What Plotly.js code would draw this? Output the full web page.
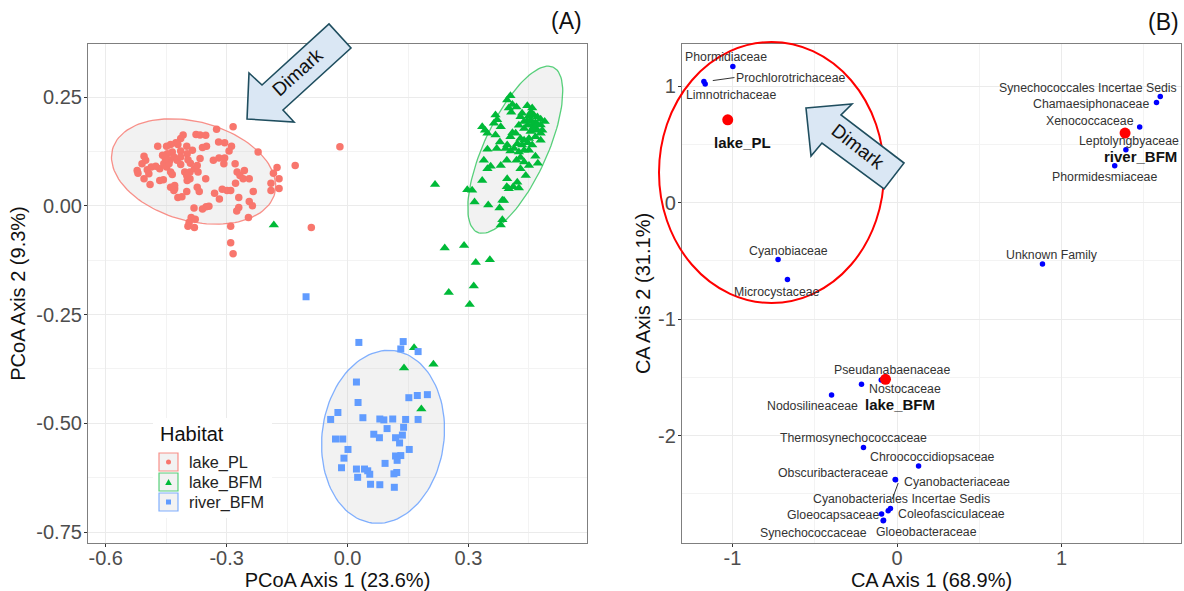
<!DOCTYPE html>
<html>
<head>
<meta charset="utf-8">
<script src="https://cdn.plot.ly/plotly-3.0.1.min.js"></script>
<style>
html,body{margin:0;padding:0;background:#fff;}
#plot{position:absolute;left:0;top:0;width:1184px;height:591px;}
</style>
</head>
<body>
<div id="plot"></div>
<script>
// ---------------- Panel A: PCoA ----------------
const habitats = ["lake_PL", "lake_BFM", "river_BFM"];

const lakePL_x = [-0.284,-0.019,-0.130,-0.090,-0.290,-0.290,-0.284,-0.222,-0.175,-0.170,
 -0.170,-0.190,-0.190,-0.184,-0.246,-0.325,-0.376,-0.366,-0.352,-0.408,
 -0.414,-0.426,-0.439,-0.449,-0.471,-0.421,-0.399,-0.414,-0.435,-0.447,
 -0.459,-0.505,-0.510,-0.501,-0.487,-0.497,-0.522,-0.520,-0.505,-0.490,
 -0.493,-0.476,-0.466,-0.456,-0.449,-0.441,-0.431,-0.439,-0.435,-0.414,
 -0.398,-0.396,-0.390,-0.404,-0.391,-0.380,-0.373,-0.366,-0.371,-0.391,
 -0.398,-0.399,-0.352,-0.350,-0.360,-0.320,-0.305,-0.288,-0.294,-0.333,
 -0.319,-0.305,-0.307,-0.279,-0.274,-0.267,-0.259,-0.256,-0.244,-0.278,
 -0.290,-0.299,-0.311,-0.330,-0.318,-0.270,-0.244,-0.234,-0.236,-0.270,
 -0.275,-0.344,-0.351,-0.360,-0.381,-0.373,-0.368,-0.399,-0.411,-0.421,
 -0.429,-0.439,-0.429,-0.457,-0.466,-0.388,-0.393,-0.396,-0.378,-0.380,
 -0.431,-0.443,-0.423,-0.452,-0.385,-0.414];
const lakePL_y = [0.182,0.136,0.093,-0.050,-0.047,-0.085,-0.110,0.124,0.088,0.062,
 0.040,0.035,0.052,0.075,-0.027,0.176,0.164,0.163,0.162,0.163,
 0.155,0.145,0.141,0.137,0.137,0.141,0.137,0.126,0.124,0.120,
 0.116,0.114,0.097,0.105,0.089,0.083,0.081,0.075,0.062,0.049,
 0.074,0.091,0.085,0.097,0.089,0.105,0.112,0.078,0.072,0.095,
 0.120,0.106,0.098,0.078,0.078,0.085,0.093,0.109,0.078,0.062,
 0.058,0.070,0.062,0.137,0.134,0.147,0.145,0.137,0.126,0.105,
 0.110,0.110,0.097,0.097,0.078,0.070,0.062,0.081,0.062,0.052,
 0.035,0.035,0.038,0.029,0.016,0.019,0.010,0.033,0.000,-0.004,
 -0.012,-0.001,-0.002,-0.007,-0.005,0.043,0.033,0.033,0.021,0.019,
 0.039,0.043,0.047,0.060,0.058,-0.027,-0.038,-0.047,-0.031,-0.050,
 0.035,0.097,0.105,0.109,0.128,0.112];

const lakeBFM_x = [-0.183,0.217,0.241,0.289,0.318,0.353,0.251,0.313,0.303,0.165,
 0.140,0.213,0.183,
 0.404,0.396,0.409,0.419,0.400,0.406,0.446,0.458,0.433,0.429,
 0.450,0.462,0.471,0.454,0.466,0.479,0.489,0.479,0.462,0.447,
 0.438,0.454,0.471,0.479,0.466,0.450,0.438,0.429,0.417,0.409,
 0.404,0.421,0.433,0.447,0.458,0.450,0.438,0.425,0.413,0.404,
 0.396,0.392,0.479,0.483,0.367,0.371,0.363,0.380,0.334,0.341,
 0.367,0.378,0.370,0.347,0.338,0.355,0.347,0.380,0.395,0.419,
 0.429,0.438,0.450,0.466,0.472,0.429,0.442,0.396,0.421,0.395,
 0.400,0.411,0.425,0.334,0.297,0.309,0.315,0.349,0.377,0.384,
 0.388,0.384,0.380,0.347,0.438,0.458,0.445,0.460,0.470,0.455,0.425];
const lakeBFM_y = [-0.044,0.049,-0.097,-0.091,-0.130,-0.124,-0.199,-0.184,-0.227,-0.326,
 -0.373,-0.364,-0.467,
 0.253,0.243,0.233,0.227,0.225,0.215,0.230,0.225,0.213,0.205,
 0.207,0.209,0.204,0.198,0.191,0.199,0.194,0.186,0.182,0.186,
 0.178,0.171,0.174,0.167,0.159,0.155,0.151,0.155,0.167,0.168,
 0.159,0.143,0.140,0.145,0.140,0.128,0.128,0.124,0.132,0.126,
 0.140,0.132,0.151,0.174,0.209,0.198,0.190,0.182,0.182,0.174,
 0.163,0.147,0.132,0.130,0.105,0.091,0.085,0.093,0.105,0.105,
 0.111,0.101,0.093,0.114,0.098,0.085,0.070,0.062,0.054,0.044,
 0.039,0.044,0.041,0.058,0.037,0.036,0.009,0.002,-0.005,0.013,
 0.012,-0.032,-0.044,0.167,0.194,0.186,0.195,0.175,0.188,0.215,0.185];

const riverBFM_x = [-0.103,0.028,0.138,0.132,0.175,0.022,0.026,0.152,0.173,0.198,
 -0.024,-0.042,0.038,0.080,0.090,0.112,0.144,0.175,0.098,0.139,
 0.065,0.079,0.136,0.119,0.129,-0.030,-0.012,0.001,0.153,-0.009,
 -0.015,0.119,0.132,0.123,0.093,0.022,0.042,0.050,0.055,0.025,
 0.115,0.122,0.057,0.080,0.116];
const riverBFM_y = [-0.209,-0.314,-0.312,-0.329,-0.335,-0.405,-0.452,-0.441,-0.436,-0.434,
 -0.475,-0.491,-0.487,-0.490,-0.492,-0.490,-0.491,-0.491,-0.512,-0.509,
 -0.525,-0.533,-0.527,-0.533,-0.545,-0.536,-0.536,-0.560,-0.560,-0.580,
 -0.602,-0.575,-0.574,-0.585,-0.592,-0.605,-0.605,-0.609,-0.617,-0.624,
 -0.616,-0.613,-0.640,-0.641,-0.647];

// 95% ellipses: centre and two conjugate semi-diameters (data units)
const ellipseCentre = [[-0.382, 0.079], [0.416, 0.129], [0.088, -0.531]];
const ellipseAxisU  = [[0.2013, -0.0506], [0.0944, 0.1897], [0.0278, 0.198]];
const ellipseAxisV  = [[0.0315, 0.1101], [-0.0706, 0.0309], [-0.150, 0.0185]];

const pcoaXTicks = [-0.6, -0.3, 0.0, 0.3];
const pcoaXTickText = ["-0.6", "-0.3", "0.0", "0.3"];
const pcoaYTicks = [0.25, 0.0, -0.25, -0.5, -0.75];
const pcoaYTickText = ["0.25", "0.00", "-0.25", "-0.50", "-0.75"];

// ---------------- Panel B: CA ----------------
const families = ["Phormidiaceae","Prochlorotrichaceae","Limnotrichaceae","Synechococcales Incertae Sedis",
 "Chamaesiphonaceae","Xenococcaceae","Leptolyngbyaceae","Phormidesmiaceae","Cyanobiaceae","Microcystaceae",
 "Unknown Family","Pseudanabaenaceae","Nostocaceae","Nodosilineaceae","Thermosynechococcaceae",
 "Chroococcidiopsaceae","Obscuribacteraceae","Cyanobacteriaceae","Cyanobacteriales Incertae Sedis",
 "Coleofasciculaceae","Gloeocapsaceae","Synechococcaceae","Gloeobacteraceae"];
const familyX = [-0.998,-1.166,-1.174,1.600,1.577,1.475,1.391,1.323,-0.723,-0.666,
 0.884,-0.096,-0.216,-0.398,-0.204,0.131,-0.011,-0.009,-0.054,-0.040,-0.094,-0.084,-0.082];
const familyY = [1.168,1.019,1.039,0.911,0.860,0.649,0.454,0.317,-0.489,-0.660,
 -0.526,-1.523,-1.560,-1.651,-2.102,-2.262,-2.376,-2.379,-2.645,-2.625,-2.674,-2.731,-2.726];

const habitatCA_x = [-1.029, -0.070, 1.386];   // lake_PL, lake_BFM, river_BFM
const habitatCA_y = [0.711, -1.517, 0.597];

const caXTicks = [-1, 0, 1];
const caXTickText = ["-1", "0", "1"];
const caYTicks = [1, 0, -1, -2];
const caYTickText = ["1", "0", "-1", "-2"];

// ---------------- layout helpers (positions/styles) ----------------
const famLabelOffset = [[-7,-10],[86,-6],[27,13],[-72,-9],[-65,2],[-50,-6],[3,-9],[-10,11],
 [10,-9],[-10,12],[10,-9],[11,-10],[43,4.5],[-19,11],[-10,-9],[14,-9],[-62,-6],[61,2],
 [13,-12],[61,6],[-49,1],[-70,12],[43,12]];
const habLabelOffset = [[15,23],[14,25],[15,23]];

const W = 1184, H = 591, ML = 88, MR = 3, MT = 44, MB = 48;
const PW = W - ML - MR, PH = H - MT - MB;
function px(xp){ return (xp - ML) / PW; }
function py(yp){ return 1 - (yp - MT) / PH; }
function pathFromPixels(pts){
  return pts.map((p,i)=> (i? 'L':'M') + px(p[0]).toFixed(4) + ',' + py(p[1]).toFixed(4)).join(' ') + ' Z';
}

const colors = ["#F8766D", "#00BA38", "#619CFF"];
const lineColors = ["rgba(248,118,109,0.8)", "rgba(0,186,56,0.65)", "rgba(97,156,255,0.8)"];
const symbols = ["circle", "triangle-up", "square"];
const sizes = [7.5, 9, 7];
const ptsX = [lakePL_x, lakeBFM_x, riverBFM_x];
const ptsY = [lakePL_y, lakeBFM_y, riverBFM_y];

const FONT = "Liberation Sans, Arial, sans-serif";
const traces = [];

for (let g = 0; g < 3; g++) {
  const ex = [], ey = [];
  const c = ellipseCentre[g], u = ellipseAxisU[g], v = ellipseAxisV[g];
  for (let i = 0; i <= 120; i++) {
    const t = 2 * Math.PI * i / 120;
    ex.push(c[0] + u[0] * Math.cos(t) + v[0] * Math.sin(t));
    ey.push(c[1] + u[1] * Math.cos(t) + v[1] * Math.sin(t));
  }
  traces.push({x: ex, y: ey, xaxis: 'x', yaxis: 'y', mode: 'lines', fill: 'toself',
    fillcolor: 'rgba(190,190,190,0.2)', line: {color: lineColors[g], width: 1.3},
    hoverinfo: 'skip', showlegend: false});
}
for (let g = 0; g < 3; g++) {
  traces.push({x: ptsX[g], y: ptsY[g], xaxis: 'x', yaxis: 'y', mode: 'markers', name: habitats[g],
    marker: {color: colors[g], symbol: symbols[g], size: sizes[g]}, showlegend: false});
}
traces.push({x: familyX, y: familyY, text: families, xaxis: 'x2', yaxis: 'y2', mode: 'markers',
  marker: {color: '#0000FF', size: 5.5}, showlegend: false, hoverinfo: 'text'});
traces.push({x: habitatCA_x, y: habitatCA_y, text: habitats, xaxis: 'x2', yaxis: 'y2', mode: 'markers',
  marker: {color: '#FF0000', size: 11}, showlegend: false, hoverinfo: 'text'});

const annotations = [];
families.forEach((f, i) => {
  annotations.push({xref: 'x2', yref: 'y2', x: familyX[i], y: familyY[i], text: f, showarrow: false,
    xanchor: 'center', yanchor: 'middle', xshift: famLabelOffset[i][0], yshift: -famLabelOffset[i][1],
    font: {family: FONT, size: 12.3, color: '#333333'}});
});
habitats.forEach((h, i) => {
  annotations.push({xref: 'x2', yref: 'y2', x: habitatCA_x[i], y: habitatCA_y[i], text: '<b>' + h + '</b>',
    showarrow: false, xanchor: 'center', yanchor: 'middle', xshift: habLabelOffset[i][0], yshift: -habLabelOffset[i][1],
    font: {family: FONT, size: 15, color: '#111111'}});
});
// panel tags
annotations.push({xref: 'paper', yref: 'paper', x: px(566), y: py(21), text: '(A)', showarrow: false,
  xanchor: 'center', yanchor: 'middle', font: {family: FONT, size: 23, color: '#111'}});
annotations.push({xref: 'paper', yref: 'paper', x: px(1163), y: py(22), text: '(B)', showarrow: false,
  xanchor: 'center', yanchor: 'middle', font: {family: FONT, size: 23, color: '#111'}});
// arrow texts
annotations.push({xref: 'paper', yref: 'paper', x: px(297), y: py(72), text: 'Dimark', showarrow: false,
  xanchor: 'center', yanchor: 'middle', textangle: -42, font: {family: FONT, size: 19, color: '#111'}});
annotations.push({xref: 'paper', yref: 'paper', x: px(858), y: py(146), text: 'Dimark', showarrow: false,
  xanchor: 'center', yanchor: 'middle', textangle: 38, font: {family: FONT, size: 19, color: '#111'}});
// legend (ggplot style, drawn inside panel A)
annotations.push({xref: 'paper', yref: 'paper', x: px(158), y: py(434), text: 'Habitat', showarrow: false,
  xanchor: 'left', yanchor: 'middle', font: {family: FONT, size: 20, color: '#111'}});
const legendRowY = [462, 482, 502];
habitats.forEach((h, i) => {
  annotations.push({xref: 'paper', yref: 'paper', x: px(187), y: py(legendRowY[i]), text: h, showarrow: false,
    xanchor: 'left', yanchor: 'middle', font: {family: FONT, size: 16.3, color: '#222'}});
});

const shapes = [
  {type: 'rect', xref: 'paper', yref: 'paper', x0: px(153), x1: px(272), y0: py(518), y1: py(418),
    fillcolor: '#FFFFFF', line: {width: 0}, layer: 'above'}
];
legendRowY.forEach((yc, i) => {
  shapes.push({type: 'rect', xref: 'paper', yref: 'paper', x0: px(159), x1: px(178), y0: py(yc + 9), y1: py(yc - 9),
    fillcolor: '#F2F2F2', line: {color: lineColors[i], width: 1.2}, layer: 'above'});
});
shapes.push({type: 'circle', xref: 'paper', yref: 'paper', x0: px(166), x1: px(171), y0: py(464.5), y1: py(459.5),
  fillcolor: colors[0], line: {width: 0}, layer: 'above'});
shapes.push({type: 'path', xref: 'paper', yref: 'paper', layer: 'above', fillcolor: colors[1], line: {width: 0},
  path: pathFromPixels([[165.2,485],[171.8,485],[168.5,479]])});
shapes.push({type: 'rect', xref: 'paper', yref: 'paper', x0: px(166), x1: px(171), y0: py(504.5), y1: py(499.5),
  fillcolor: colors[2], line: {width: 0}, layer: 'above'});
shapes.push({type: 'line', xref: 'x2', yref: 'y2', x0: -1.120, y0: 1.048, x1: -0.988, y1: 1.074, line: {color: '#333', width: 1}});
shapes.push({type: 'line', xref: 'x2', yref: 'y2', x0: 0.007, y0: -2.408, x1: -0.029, y1: -2.545, line: {color: '#333', width: 1}});
shapes.push({type: 'circle', xref: 'paper', yref: 'paper', x0: px(659), x1: px(884), y0: py(303), y1: py(42),
  line: {color: '#FF0000', width: 2}, fillcolor: 'rgba(0,0,0,0)', layer: 'above'});
shapes.push({type: 'path', xref: 'paper', yref: 'paper', layer: 'above',
  path: pathFromPixels([[247,119],[249,73],[262,85],[329,24],[351,48],[283,110],[294,122]]),
  fillcolor: '#DAE7F4', line: {color: '#1F4E5F', width: 1.6}});
shapes.push({type: 'path', xref: 'paper', yref: 'paper', layer: 'above',
  path: pathFromPixels([[806,108],[852,104],[841,115],[904,163],[884,189],[822,143],[811,156]]),
  fillcolor: '#DAE7F4', line: {color: '#1F4E5F', width: 1.6}});

const axisCommon = {
  showline: true, mirror: true, linecolor: '#7F7F7F', linewidth: 1.2,
  ticks: 'outside', ticklen: 3, tickcolor: '#333', tickwidth: 1,
  showgrid: true, gridcolor: '#EBEBEB', gridwidth: 1, zeroline: false,
  tickfont: {family: FONT, size: 20, color: '#4D4D4D'}, automargin: false
};
const titleFont = {family: FONT, size: 20, color: '#111'};
const minorGrid = (vals) => ({tickvals: vals, showgrid: true, gridcolor: '#F3F3F3', gridwidth: 0.6, ticks: ''});

const layout = {
  width: W, height: H,
  margin: {l: ML, r: MR, t: MT, b: MB},
  paper_bgcolor: '#FFFFFF', plot_bgcolor: '#FFFFFF',
  showlegend: false,
  xaxis: Object.assign({}, axisCommon, {domain: [0, px(587)], range: [-0.644, 0.594],
    tickmode: 'array', tickvals: pcoaXTicks, ticktext: pcoaXTickText, ticklabelstandoff: -6,
    minor: minorGrid([-0.45, -0.15, 0.15, 0.45]),
    title: {text: 'PCoA Axis 1 (23.6%)', font: titleFont, standoff: 13}, anchor: 'y'}),
  yaxis: Object.assign({}, axisCommon, {domain: [0, 1], range: [-0.775, 0.372],
    tickmode: 'array', tickvals: pcoaYTicks, ticktext: pcoaYTickText, ticklabelstandoff: -2,
    minor: minorGrid([0.125, -0.125, -0.375, -0.625]),
    title: {text: 'PCoA Axis 2 (9.3%)', font: titleFont, standoff: 5}, anchor: 'x'}),
  xaxis2: Object.assign({}, axisCommon, {domain: [px(682), 1], range: [-1.307, 1.726],
    tickmode: 'array', tickvals: caXTicks, ticktext: caXTickText, ticklabelstandoff: -6,
    minor: minorGrid([-0.5, 0.5, 1.5]),
    title: {text: 'CA Axis 1 (68.9%)', font: titleFont, standoff: 13}, anchor: 'y2'}),
  yaxis2: Object.assign({}, axisCommon, {domain: [0, 1], range: [-2.922, 1.362],
    tickmode: 'array', tickvals: caYTicks, ticktext: caYTickText, ticklabelstandoff: -2,
    minor: minorGrid([0.5, -0.5, -1.5, -2.5]),
    title: {text: 'CA Axis 2 (31.1%)', font: titleFont, standoff: 2}, anchor: 'x2'}),
  annotations: annotations,
  shapes: shapes
};

Plotly.newPlot('plot', traces, layout, {displayModeBar: false, responsive: false});
</script>
</body>
</html>
